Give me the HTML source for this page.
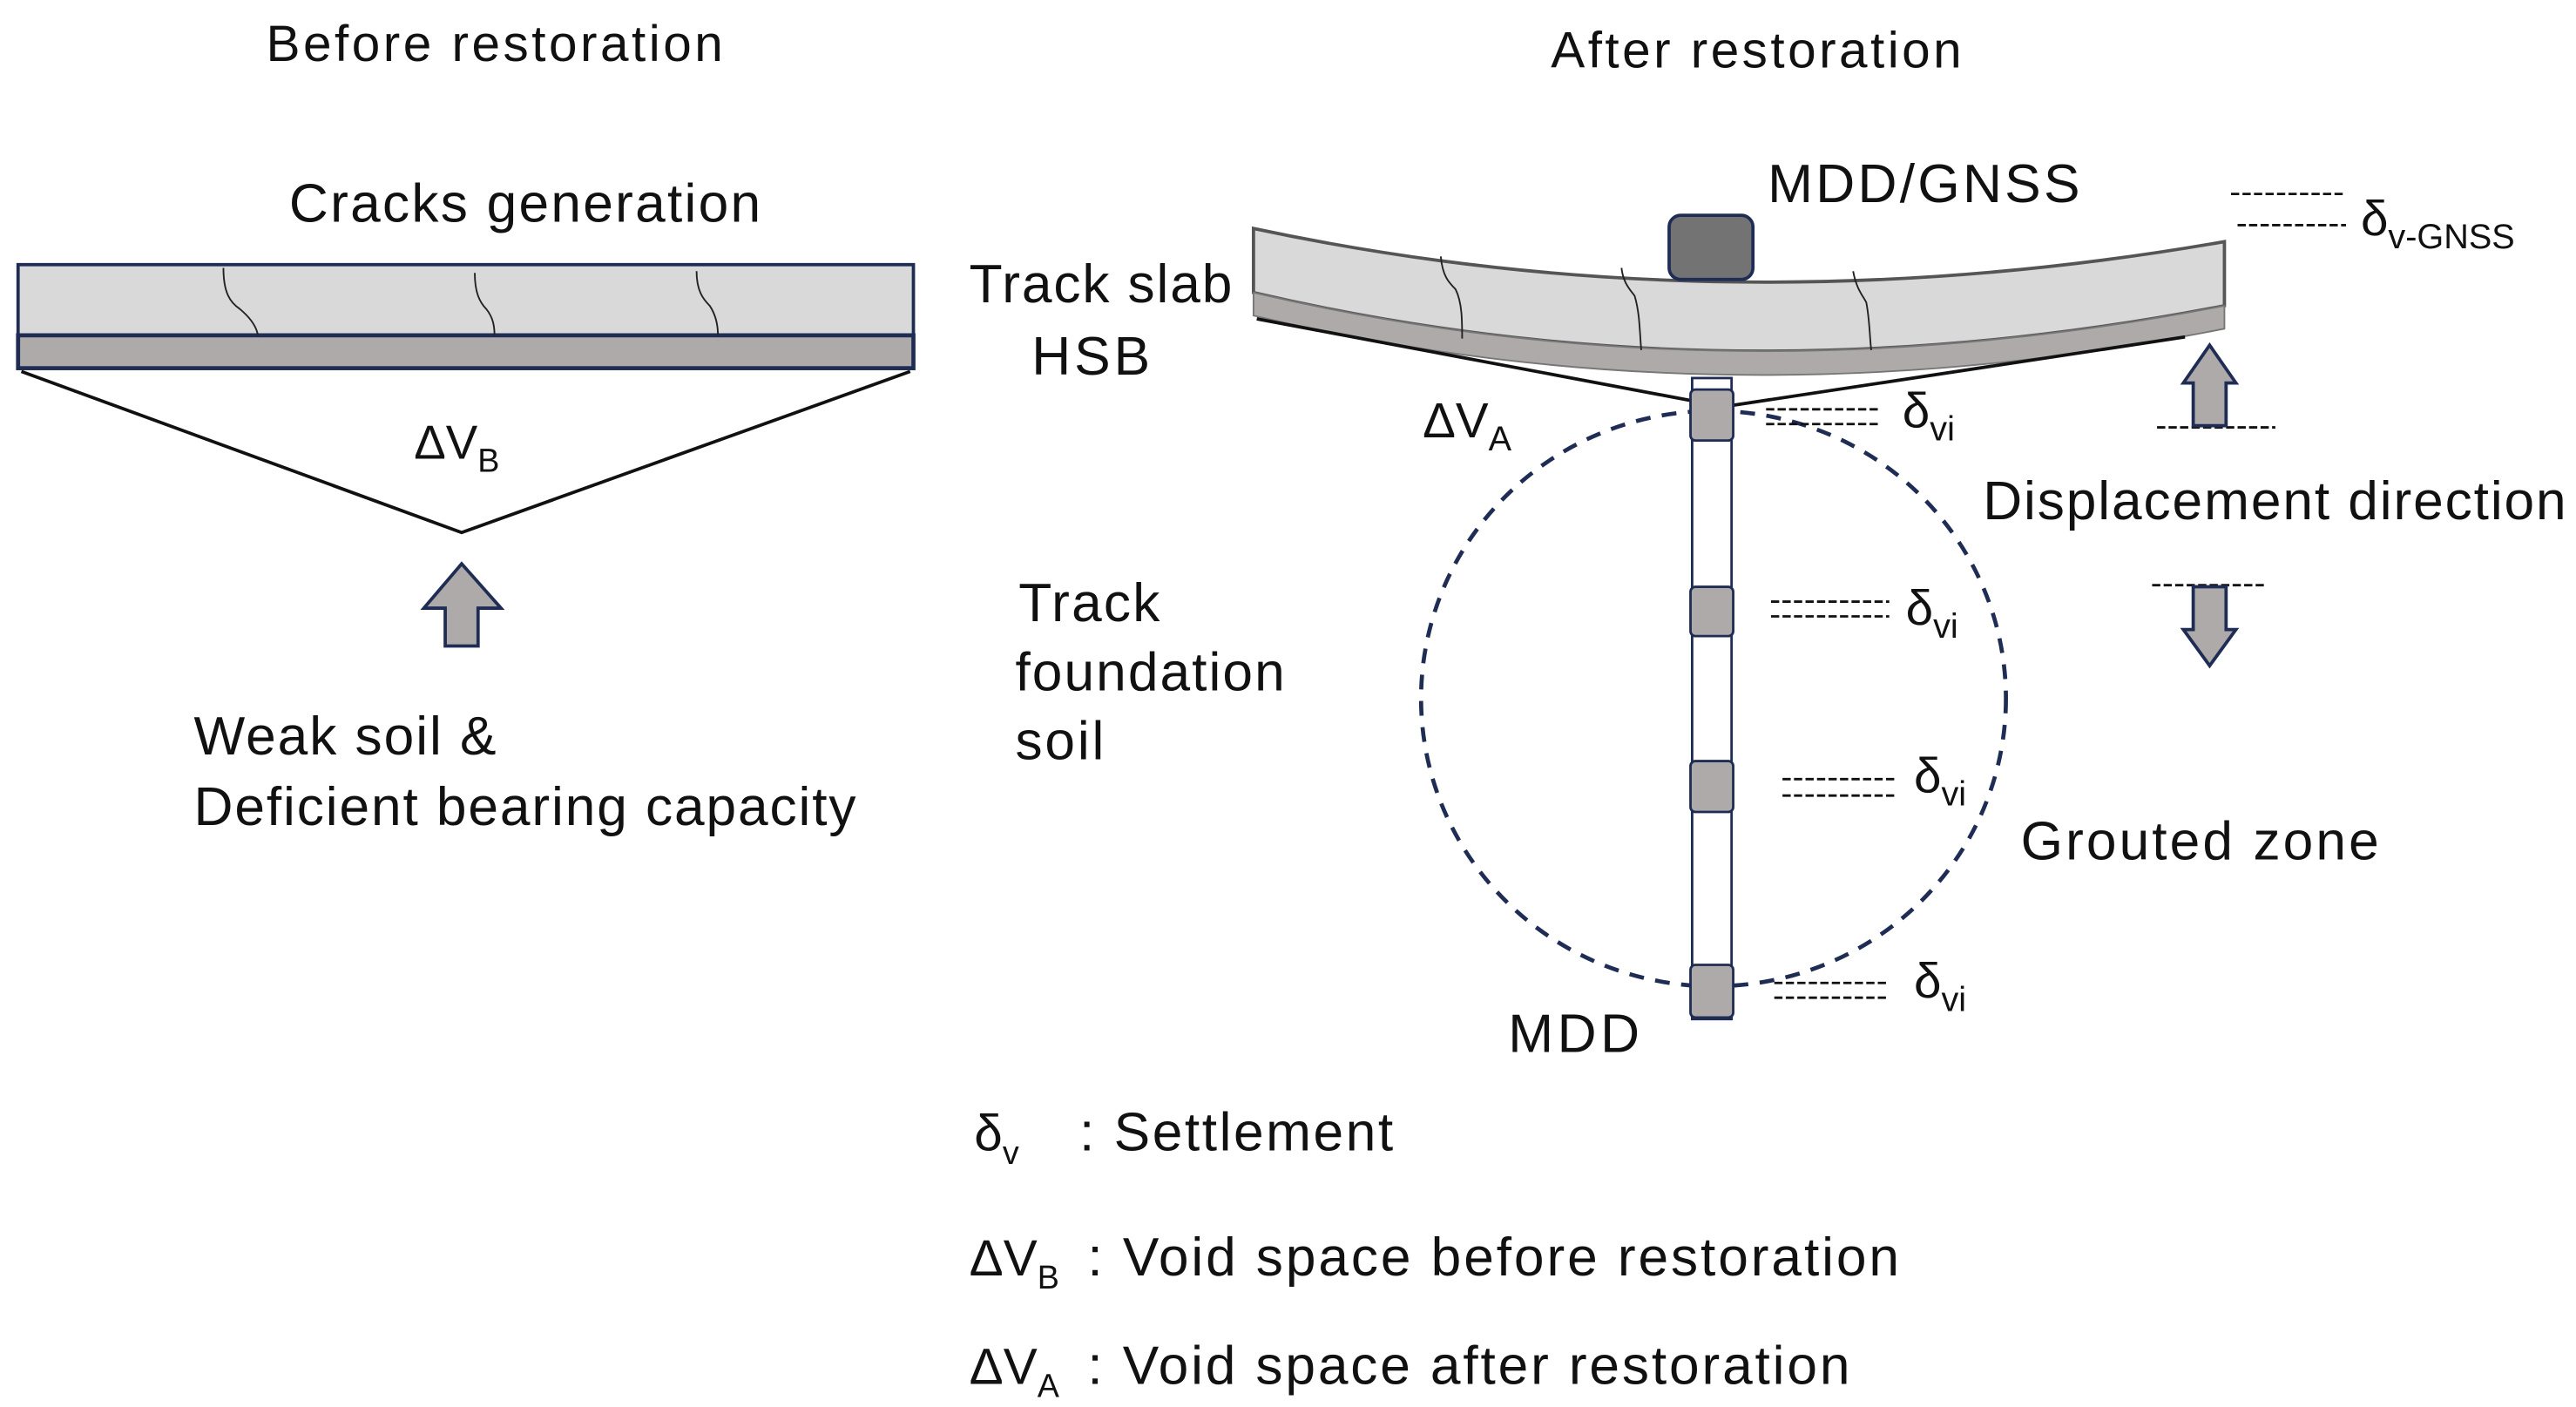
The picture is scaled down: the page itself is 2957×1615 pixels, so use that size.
<!DOCTYPE html>
<html><head><meta charset="utf-8"><style>html,body{margin:0;padding:0;background:#fff}svg{display:block}</style></head><body>
<svg width="2957" height="1615" viewBox="0 0 1568 856" preserveAspectRatio="none" xmlns="http://www.w3.org/2000/svg" font-family="Liberation Sans, sans-serif" fill="#111">
<!-- left slab -->
<rect x="11" y="161" width="545" height="43" fill="#d9d9d9" stroke="#1f2d55" stroke-width="2"/>
<rect x="11" y="204" width="545" height="20" fill="#aeaaa9" stroke="#1f2d55" stroke-width="2.5"/>
<g fill="none" stroke="#222" stroke-width="1">
<path d="M136 163 C136 178 140 184 146 188 C152 193 156 198 157 204"/>
<path d="M289 166 C289 178 292 184 296 188 C300 193 301 198 301 204"/>
<path d="M424 165 C424 177 428 182 432 186 C436 192 437 198 437 204"/>
</g>
<polyline points="13,226 281,324 554,226" fill="none" stroke="#111" stroke-width="2"/>
<text x="252" y="279" font-size="29">ΔV<tspan font-size="20" dy="8">B</tspan></text>
<polygon points="281,343 305,370 291,370 291,393 271,393 271,370 258,370" fill="#aeaaa9" stroke="#1f2d55" stroke-width="2"/>
<text x="162" y="37" font-size="31" textLength="278">Before restoration</text>
<text x="176" y="135" font-size="33" textLength="287">Cracks generation</text>
<text x="118" y="459" font-size="33" textLength="184">Weak soil &amp;</text>
<text x="118" y="502" font-size="33" textLength="403">Deficient bearing capacity</text>
<!-- right slab -->
<path d="M763 139 Q1050 200 1354 147 L1354 186 Q1050 245 763 178 Z" fill="#d9d9d9" stroke="#555" stroke-width="2"/>
<path d="M763 178 Q1050 245 1354 186 L1354 200 Q1050 260 763 192 Z" fill="#aeaaa9" stroke="#777" stroke-width="1"/>
<g fill="none" stroke="#222" stroke-width="1">
<path d="M877 156 C878 168 882 172 886 176 C890 184 890 195 890 206"/>
<path d="M987 163 C988 172 992 176 995 180 C998 190 998 200 999 213"/>
<path d="M1128 165 C1130 176 1134 180 1136 184 C1138 194 1138 204 1139 213"/>
</g>
<line x1="765" y1="194" x2="1031" y2="244" stroke="#111" stroke-width="2"/>
<line x1="1330" y1="205" x2="1052" y2="247" stroke="#111" stroke-width="2"/>
<rect x="1016" y="131" width="51" height="39" rx="7" fill="#737373" stroke="#1f2d55" stroke-width="2"/>
<!-- MDD column -->
<rect x="1030" y="230" width="24" height="390" fill="#fff" stroke="#1f2d55" stroke-width="1.5"/>
<ellipse cx="1043" cy="425" rx="178" ry="175" fill="none" stroke="#1f2d55" stroke-width="2.5" stroke-dasharray="9,7"/>
<g fill="#aeaaa9" stroke="#1f2d55" stroke-width="1.5">
<rect x="1029" y="237" width="26" height="31" rx="3"/>
<rect x="1029" y="357" width="26" height="30" rx="3"/>
<rect x="1029" y="463" width="26" height="31" rx="3"/>
<rect x="1029" y="587" width="26" height="32" rx="3"/>
</g>
<g stroke="#111" stroke-width="1.5" stroke-dasharray="5,2">
<line x1="1075" y1="249" x2="1145" y2="249"/><line x1="1075" y1="258" x2="1145" y2="258"/>
<line x1="1078" y1="366" x2="1150" y2="366"/><line x1="1078" y1="375" x2="1150" y2="375"/>
<line x1="1085" y1="474" x2="1155" y2="474"/><line x1="1085" y1="484" x2="1155" y2="484"/>
<line x1="1080" y1="598" x2="1150" y2="598"/><line x1="1080" y1="607" x2="1150" y2="607"/>
<line x1="1358" y1="118" x2="1428" y2="118"/><line x1="1362" y1="137" x2="1428" y2="137"/>
<line x1="1313" y1="260" x2="1385" y2="260"/>
<line x1="1310" y1="356" x2="1380" y2="356"/>
</g>
<g font-size="30">
<text x="1158" y="260">δ<tspan font-size="21" dy="8">vi</tspan></text>
<text x="1160" y="380">δ<tspan font-size="21" dy="8">vi</tspan></text>
<text x="1165" y="482">δ<tspan font-size="21" dy="8">vi</tspan></text>
<text x="1165" y="607">δ<tspan font-size="21" dy="8">vi</tspan></text>
<text x="1437" y="143">δ<tspan font-size="21" dy="8">v-GNSS</tspan></text>
<text x="866" y="266">ΔV<tspan font-size="21" dy="8">A</tspan></text>
</g>
<polygon points="1345,210 1361,233 1355,233 1355,259 1335,259 1335,233 1329,233" fill="#aeaaa9" stroke="#1f2d55" stroke-width="2"/>
<polygon points="1345,405 1361,383 1355,383 1355,357 1335,357 1335,383 1329,383" fill="#aeaaa9" stroke="#1f2d55" stroke-width="2"/>
<text x="944" y="41" font-size="31" textLength="250">After restoration</text>
<text x="1076" y="123" font-size="33" textLength="190">MDD/GNSS</text>
<text x="590" y="184" font-size="33" textLength="160">Track slab</text>
<text x="628" y="228" font-size="33" textLength="72">HSB</text>
<text x="1207" y="316" font-size="33" textLength="355">Displacement direction</text>
<text x="620" y="378" font-size="33" textLength="86">Track</text>
<text x="618" y="420" font-size="33" textLength="164">foundation</text>
<text x="618" y="462" font-size="33" textLength="54">soil</text>
<text x="1230" y="523" font-size="33" textLength="218">Grouted zone</text>
<text x="918" y="640" font-size="33" textLength="80">MDD</text>
<!-- legend -->
<text x="593" y="700" font-size="31">δ<tspan font-size="20" dy="8">v</tspan></text>
<text x="657" y="700" font-size="33" textLength="191">: Settlement</text>
<text x="590" y="776" font-size="31">ΔV<tspan font-size="20" dy="8">B</tspan></text>
<text x="662" y="776" font-size="33" textLength="494">: Void space before restoration</text>
<text x="590" y="842" font-size="31">ΔV<tspan font-size="20" dy="8">A</tspan></text>
<text x="662" y="842" font-size="33" textLength="464">: Void space after restoration</text>
</svg>
</body></html>
